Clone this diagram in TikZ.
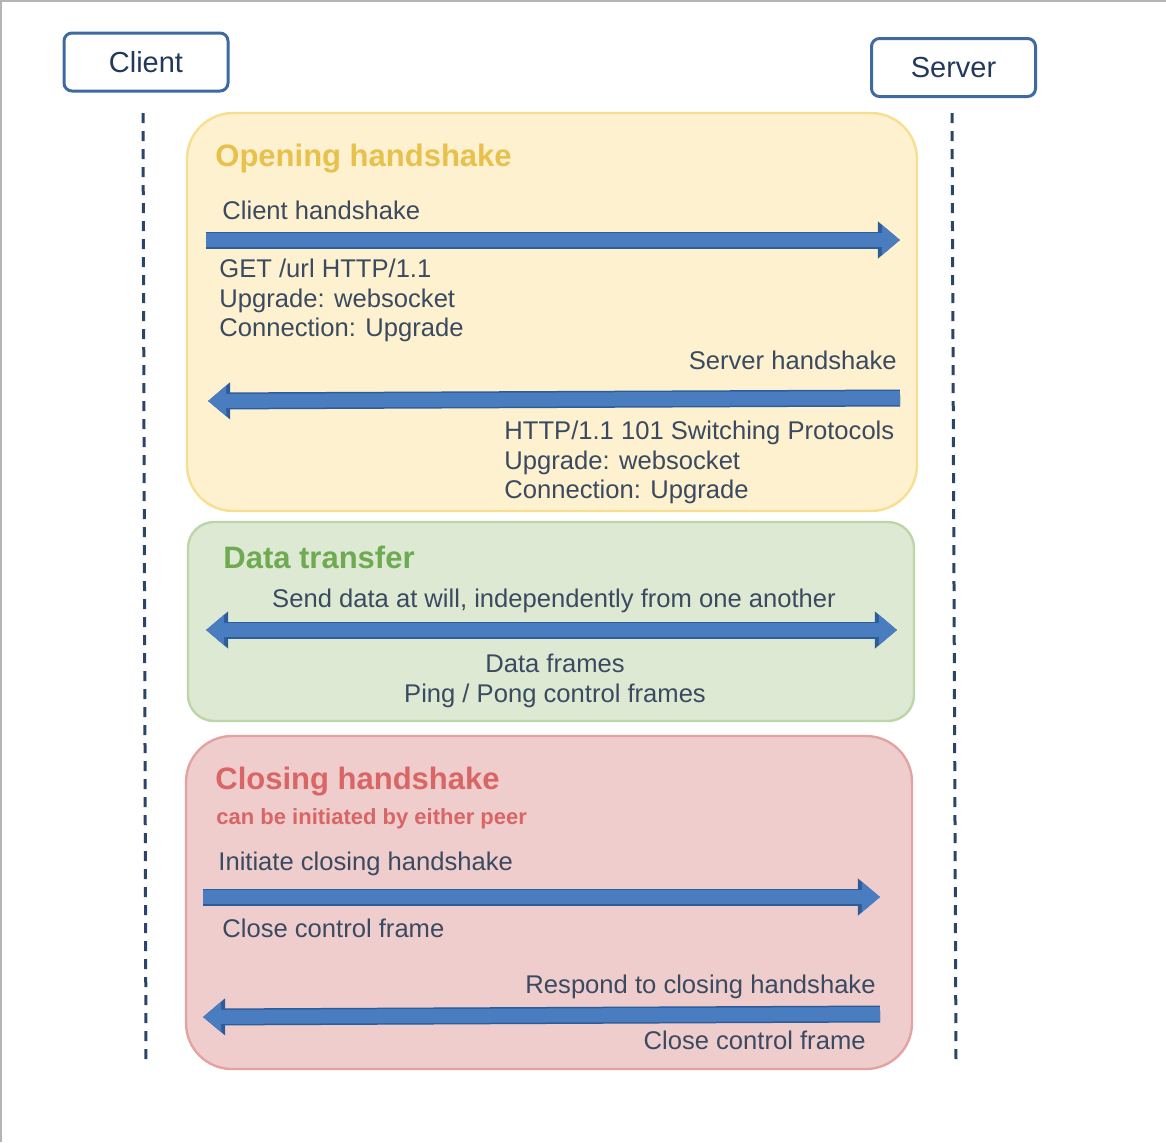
\documentclass[tikz,border=0pt]{standalone}
\usepackage{fontspec}
\setmainfont{Liberation Sans}
\usetikzlibrary{arrows.meta}

\definecolor{peerblue}{HTML}{3E6AA1}
\definecolor{peertext}{HTML}{22395A}
\definecolor{lifeline}{HTML}{2B4568}
\definecolor{openfill}{HTML}{FDF1CF}
\definecolor{openedge}{HTML}{F8DE90}
\definecolor{opentitle}{HTML}{E8C14C}
\definecolor{datafill}{HTML}{DEE9D3}
\definecolor{dataedge}{HTML}{BDD6A8}
\definecolor{datatitle}{HTML}{6DAA52}
\definecolor{closefill}{HTML}{EFCDCD}
\definecolor{closeedge}{HTML}{E4A2A2}
\definecolor{closetitle}{HTML}{D96565}
\definecolor{arrowfill}{HTML}{4A7DC0}
\definecolor{arrowedge}{HTML}{2E5C9B}
\definecolor{msgtext}{HTML}{3A4A60}
\definecolor{framegray}{HTML}{B4B4B4}

\tikzset{bigtip/.tip={Triangle[length=0pt 1.3,width=0pt 2.1]}}

\begin{document}
\begin{tikzpicture}
  [x=0.5pt,y=-0.5pt,every node/.style={inner sep=0pt},
   peer/.style={draw=peerblue,line width=1.5pt,rounded corners=4pt,text=peertext,
     font=\fontsize{14.5}{16}\selectfont,minimum width=82pt,minimum height=29pt},
   lane/.style={draw=lifeline,line width=1.5pt,dash pattern=on 5pt off 4pt},
   section/.style={line width=1.2pt},
   title/.style={font=\bfseries\fontsize{15.5}{18}\selectfont,anchor=base west},
   msg/.style={text=msgtext,font=\fontsize{12.8}{14.6}\selectfont},
   blockarrow/.style={draw=arrowfill,line width=7pt,
     preaction={draw=arrowedge,line width=8.5pt}}]
  \useasboundingbox (0,0) rectangle (1166,1142);
  \draw[framegray,line width=2pt] (0,1142) -- (0,0) -- (1166,0);

  % peers and their life lines
  \node[peer] (client) at (146,62) {Client};
  \node[peer] (server) at (953.5,67.5) {Server};
  \coordinate (cltop) at (143,113);
  \coordinate (clbot) at (146,1062);
  \coordinate (svtop) at (952,113);
  \coordinate (svbot) at (956,1062);
  \draw[lane] (cltop) -- (clbot);
  \draw[lane] (svtop) -- (svbot);

  % the three phases
  \node[section,fill=openfill,draw=openedge,rounded corners=23pt,
    minimum width=365pt,minimum height=199pt] (open) at (552,312) {};
  \node[section,fill=datafill,draw=dataedge,rounded corners=13pt,
    minimum width=363pt,minimum height=99.5pt] (data) at (551,621.5) {};
  \node[section,fill=closefill,draw=closeedge,rounded corners=23pt,
    minimum width=363pt,minimum height=166.5pt] (close) at (549,902.5) {};

  \node[title,text=opentitle] (opentitle) at (215,166) {Opening handshake};
  \node[title,text=datatitle] (datatitle) at (223,568) {Data transfer};
  \node[title,text=closetitle] (closetitle) at (215,789) {Closing handshake};
  \node[text=closetitle,font=\bfseries\fontsize{11}{13}\selectfont,anchor=base west]
    (closenote) at (216,824) {can be initiated by either peer};

  % messages
  \node[msg,anchor=base west] (chlabel) at (222,219) {Client handshake};
  \node[msg,anchor=north west,align=left] (chtext) at (219,259)
    {GET /url HTTP/1.1\\Upgrade: websocket\\Connection: Upgrade};
  \node[msg,anchor=base east] (shlabel) at (897,369) {Server handshake};
  \node[msg,anchor=north west,align=left] (shtext) at (504,421)
    {HTTP/1.1 101 Switching Protocols\\Upgrade: websocket\\Connection: Upgrade};
  \node[msg,anchor=base] (dtlabel) at (554,607)
    {Send data at will, independently from one another};
  \node[msg,anchor=north,align=center] (dttext) at (555,654)
    {Data frames\\Ping / Pong control frames};
  \node[msg,anchor=base west] (iclabel) at (218,870) {Initiate closing handshake};
  \node[msg,anchor=base west] (ictext) at (222,937) {Close control frame};
  \node[msg,anchor=base east] (rclabel) at (876,993) {Respond to closing handshake};
  \node[msg,anchor=base east] (rctext) at (866,1049) {Close control frame};

  \coordinate (chstart) at (206,240);
  \coordinate (chend)   at (900,240);
  \coordinate (shstart) at (900,398);
  \coordinate (shend)   at (208,401);
  \coordinate (dtstart) at (206,630);
  \coordinate (dtend)   at (897,630);
  \coordinate (icstart) at (203,897);
  \coordinate (icend)   at (880,897);
  \coordinate (rcstart) at (880,1014);
  \coordinate (rcend)   at (203,1017);

  \foreach \from/\to in {chstart/chend,shstart/shend,icstart/icend,rcstart/rcend}
    \draw[blockarrow,-bigtip] (\from) -- (\to);
  \draw[blockarrow,bigtip-bigtip] (dtstart) -- (dtend);

\end{tikzpicture}
\end{document}
